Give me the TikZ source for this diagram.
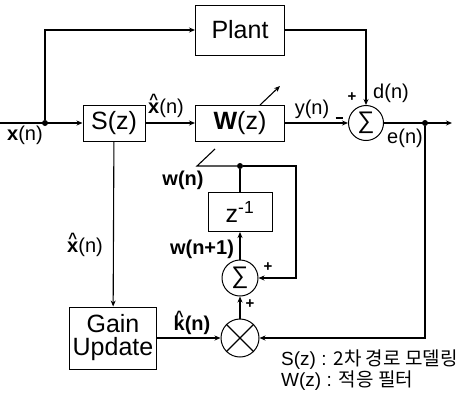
\documentclass[tikz,border=0pt]{standalone}
\usepackage{fontspec}
\setmainfont{Liberation Sans}
\newfontfamily\kor{Noto Sans CJK KR}
\usetikzlibrary{positioning,arrows.meta,calc}
\tikzset{
    blk/.style={rectangle,draw,line width=1pt,inner sep=0pt,font=\fontsize{25}{27}\selectfont},
    sumc/.style={circle,draw,line width=1pt,inner sep=0pt,font=\fontsize{24}{26}\selectfont},
    jdot/.style={circle,fill,inner sep=0pt,minimum size=6pt},
    lbl/.style={font=\fontsize{20}{22}\selectfont,inner sep=1pt},
    sgn/.style={font=\bfseries\fontsize{15}{16}\selectfont,inner sep=0pt},
    arr/.style={-{Stealth[length=6pt,width=5pt]},line width=1.1pt},
    ln/.style={line width=1.1pt},
}
\newcommand{\hatc}[1]{\ooalign{#1\cr\hidewidth\raisebox{0.42em}{\fontsize{15}{15}\selectfont\textasciicircum}\hidewidth\cr}}
\newcommand{\hatx}{\textbf{\hatc{x}}}
\newcommand{\sumsym}{\symbol{"2211}}
\begin{document}
\begin{tikzpicture}[x=1pt,y=-1pt]
\useasboundingbox (0,0) rectangle (468,392);
% blocks
\node[blk,minimum width=89pt,minimum height=50pt] (plant) at (240,30) {Plant};
\node[blk,minimum width=62pt,minimum height=36pt] (sz) at (114,123) {S(z)};
\node[blk,minimum width=89pt,minimum height=36pt] (wz) at (240,123) {\textbf{W}(z)};
\node[sumc,minimum size=35pt] (sum) at (366,123) {\sumsym};
\node[blk,minimum width=64pt,minimum height=39pt] (zinv) at (240,212) {z\textsuperscript{-1}};
\node[sumc,minimum size=36pt] (sum2) at (240,278) {\sumsym};
\node[circle,draw,line width=1pt,minimum size=38pt] (mul) at (240,338) {};
\node[blk,minimum width=87pt,minimum height=62pt,align=center] (gain) at (113,338) {Gain\\[-4pt]Update};
% junctions
\node[jdot] (jin) at (45,123) {};
\node[jdot] (jout) at (425,123) {};
\node[jdot] (jw) at (240,166) {};
\coordinate (xin) at (0,123);
\coordinate (eout) at (452,123);
\coordinate (wl) at (197,166);
\coordinate (wtip) at (215,149);
\coordinate (wa) at (260,105);
\coordinate (wb) at (280,86);
\coordinate (fb) at (296,166);
% connectors
\draw[ln] (mul.north west) -- (mul.south east) (mul.north east) -- (mul.south west);
\draw[arr] (xin) -- (sz);
\draw[arr] (jin) |- (plant);
\draw[arr] (sz) -- (wz);
\draw[arr] (wz) -- (sum);
\draw[arr] (plant) -| (sum);
\draw[arr] (sum) -- (eout);
\draw[arr] (jout) |- (mul);
\draw[arr] (gain) -- (mul);
\draw[arr] (sz) -- (gain);
\draw[arr] (mul) -- (sum2);
\draw[arr] (sum2) -- (zinv);
\draw[ln] (zinv) -- (jw);
\draw[arr] (jw) -- (fb) |- (sum2);
\draw[ln] (jw) -- (wl) -- (wtip);
\draw[arr] (wa) -- (wb);
% labels
\node[lbl] (lx) at (25,135) {\textbf{x}(n)};
\node[lbl] (lxh) at (166,108) {\hatx(n)};
\node[lbl] (ly) at (312,109) {y(n)};
\node[inner sep=0pt] (lm) at (339,118) {\rule{7pt}{1.2pt}};
\node[sgn] (lp1) at (352,97) {+};
\node[lbl] (ld) at (391,93) {d(n)};
\node[lbl] (le) at (405,138) {e(n)};
\node[lbl] (lxh2) at (85,247) {\hatx(n)};
\node[lbl] (lw) at (183,180) {\textbf{w(n)}};
\node[lbl] (lw1) at (202,249) {\textbf{w(n+1)}};
\node[sgn] (lp2) at (268,267) {+};
\node[sgn] (lp3) at (250,304) {+};
\node[lbl] (lk) at (192,325) {\textbf{\hatc{k}(n)}};
\node[lbl,anchor=west,font=\fontsize{19}{21}\selectfont] (leg1) at (280,360) {S(z) : {\kor 2차 경로 모델링}};
\node[lbl,anchor=west,font=\fontsize{19}{21}\selectfont] (leg2) at (280,381) {W(z) : {\kor 적응 필터}};
\end{tikzpicture}
\end{document}
